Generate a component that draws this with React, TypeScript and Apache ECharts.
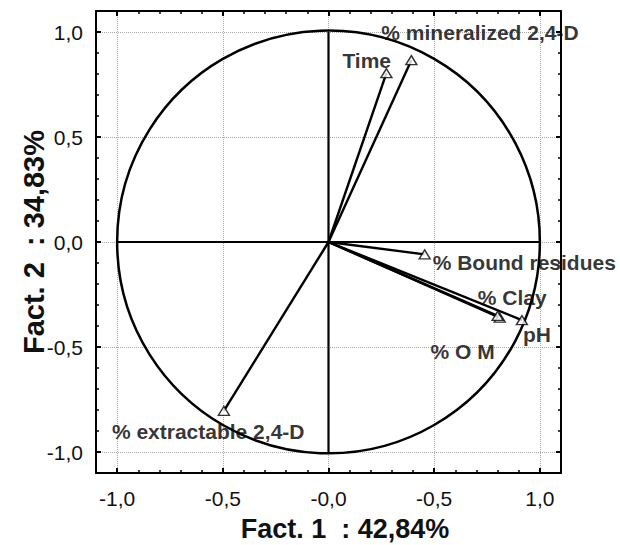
import React, { useEffect, useRef } from "react";
import * as echarts from "echarts";

// ---- Data ----
const variableNames = [
  "% mineralized 2,4-D",
  "Time",
  "% Bound residues",
  "% Clay",
  "% O M",
  "pH",
  "% extractable 2,4-D",
];
const factor1 = [0.392, 0.274, 0.455, 0.81, 0.8, 0.915, -0.495];
const factor2 = [0.866, 0.804, -0.059, -0.36, -0.352, -0.372, -0.804];

const majorTickValues = [-1, -0.5, 0, 0.5, 1];
const minorTickValues = [
  -0.9, -0.8, -0.7, -0.6, -0.4, -0.3, -0.2, -0.1, 0.1, 0.2, 0.3, 0.4, 0.6, 0.7,
  0.8, 0.9,
];
const xTickLabels = ["-1,0", "-0,5", "-0,0", "-0,5", "1,0"];
const yTickLabels = ["-1,0", "-0,5", "0,0", "0,5", "1,0"];
const xTitle = "Fact. 1  : 42,84%";
const yTitle = "Fact. 2  : 34,83%";

// label placement (pixels relative to the marker centre)
const labelOffsets: Record<string, [number, number]> = {
  "% mineralized 2,4-D": [-30, -28],
  Time: [-44, -13],
  "% Bound residues": [8, 8],
  "% Clay": [-22, -20],
  "% O M": [-67, 36],
  pH: [1, 14],
  "% extractable 2,4-D": [-112, 21],
};

const FONT = "'Liberation Sans', Arial, Helvetica, sans-serif";

function fmt(labels: string[]) {
  return (v: number) => {
    const i = majorTickValues.findIndex((t) => Math.abs(t - v) < 1e-6);
    return i >= 0 ? labels[i] : "";
  };
}

function makeAxis(
  kind: "x" | "y",
  position: string,
  major: boolean,
  withLabels: boolean
) {
  return {
    type: "value",
    position,
    min: -1.1,
    max: 1.1,
    axisLine: {
      show: major,
      onZero: false,
      lineStyle: { color: "#000", width: 2 },
    },
    axisTick: {
      show: true,
      inside: true,
      length: major ? 5 : 3,
      customValues: major ? majorTickValues : minorTickValues,
      lineStyle: { color: "#000", width: major ? 2 : 1.5 },
    },
    axisLabel: {
      show: withLabels,
      customValues: majorTickValues,
      formatter: fmt(kind === "x" ? xTickLabels : yTickLabels),
      color: "#111",
      fontSize: 21,
      fontFamily: FONT,
      margin: kind === "x" ? 15 : 13,
    },
    splitLine: {
      show: withLabels,
      lineStyle: { color: "#a8a8a8", type: "dotted", width: 1 },
    },
  };
}

export default function App() {
  const ref = useRef<HTMLDivElement>(null);

  useEffect(() => {
    if (!ref.current) return;
    const chart = echarts.init(ref.current, undefined, { renderer: "svg" });

    const points = variableNames.map((name, i) => ({
      name,
      value: [factor1[i], factor2[i]],
    }));

    const option: any = {
      animation: false,
      backgroundColor: "#fff",
      grid: { left: 96, top: 11, right: 59, bottom: 72, containLabel: false },
      xAxis: [
        makeAxis("x", "bottom", true, true),
        makeAxis("x", "bottom", false, false),
        makeAxis("x", "top", true, false),
        makeAxis("x", "top", false, false),
      ],
      yAxis: [
        makeAxis("y", "left", true, true),
        makeAxis("y", "left", false, false),
        makeAxis("y", "right", true, false),
        makeAxis("y", "right", false, false),
      ],
      graphic: [
        {
          type: "text",
          x: 345,
          y: 529,
          style: {
            text: xTitle,
            fontSize: 27,
            fontWeight: "bold",
            fontFamily: FONT,
            fill: "#111",
            align: "center",
            verticalAlign: "middle",
          },
        },
        {
          type: "text",
          x: 34,
          y: 242,
          rotation: Math.PI / 2,
          style: {
            text: yTitle,
            fontSize: 29,
            fontWeight: "bold",
            fontFamily: FONT,
            fill: "#111",
            align: "center",
            verticalAlign: "middle",
          },
        },
      ],
      series: [
        {
          type: "custom",
          coordinateSystem: "cartesian2d",
          silent: true,
          clip: false,
          data: [[0, 0]],
          z: 2,
          renderItem: (_p: any, api: any) => {
            const c = api.coord([0, 0]);
            const r = api.size([1, 1]);
            const l = api.coord([-1, 0]);
            const rr = api.coord([1, 0]);
            const t = api.coord([0, 1]);
            const b = api.coord([0, -1]);
            return {
              type: "group",
              children: [
                {
                  type: "circle",
                  shape: { cx: c[0], cy: c[1], r: r[0] },
                  style: { fill: "none", stroke: "#000", lineWidth: 2.5 },
                },
                {
                  type: "line",
                  shape: { x1: l[0], y1: l[1], x2: rr[0], y2: rr[1] },
                  style: { stroke: "#000", lineWidth: 2.2 },
                },
                {
                  type: "line",
                  shape: { x1: t[0], y1: t[1], x2: b[0], y2: b[1] },
                  style: { stroke: "#000", lineWidth: 2.2 },
                },
              ],
            };
          },
        },
        {
          type: "custom",
          coordinateSystem: "cartesian2d",
          silent: true,
          clip: false,
          z: 3,
          data: variableNames.map((_, i) => [factor1[i], factor2[i]]),
          renderItem: (_p: any, api: any) => {
            const o = api.coord([0, 0]);
            const p = api.coord([api.value(0), api.value(1)]);
            return {
              type: "line",
              shape: { x1: o[0], y1: o[1], x2: p[0], y2: p[1] },
              style: { stroke: "#000", lineWidth: 2.4 },
            };
          },
        },
        {
          type: "scatter",
          symbol: "triangle",
          symbolSize: [11, 9],
          z: 4,
          itemStyle: { color: "#fff", borderColor: "#000", borderWidth: 1.4 },
          label: {
            show: true,
            position: "inside",
            align: "left",
            verticalAlign: "middle",
            formatter: "{b}",
            color: "#000",
            fontSize: 21,
            fontWeight: "bold",
            fontFamily: FONT,
          },
          labelLayout: (params: any) => {
            const name = variableNames[params.dataIndex];
            const off = labelOffsets[name] || [0, 0];
            const r = params.rect;
            return {
              x: r.x + r.width / 2 + off[0],
              y: r.y + r.height / 2 + off[1],
              align: "left",
              verticalAlign: "middle",
              hideOverlap: false,
              moveOverlap: false,
            };
          },
          data: points,
        },
      ],
    };

    chart.setOption(option);
    return () => chart.dispose();
  }, []);

  return (
    <div
      ref={ref}
      style={{ position: "absolute", left: 0, top: 0, width: 620, height: 545 }}
    />
  );
}
